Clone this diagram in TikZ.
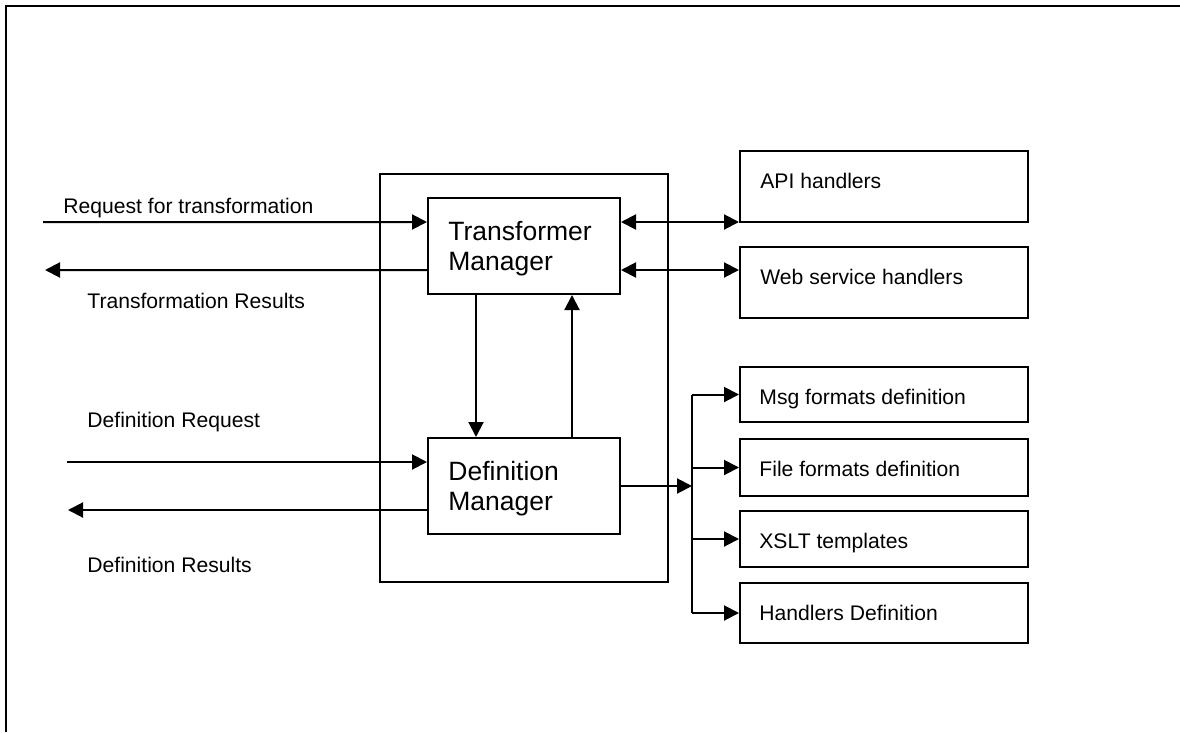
\documentclass[tikz,border=0pt]{standalone}
\usepackage{fontspec}
\setmainfont{Liberation Sans}
\usetikzlibrary{arrows.meta,calc}

\tikzset{
  box/.style={draw, line width=1bp, inner sep=0pt},
  txt/.style={inner sep=0pt, anchor=base west, font=\fontsize{10.6}{12.7}\selectfont},
  bigtxt/.style={inner sep=0pt, anchor=north west, align=left, font=\fontsize{13.3}{15}\selectfont},
  flow/.style={line width=1bp, -{Triangle[length=7.5bp,width=7.5bp]}},
  both/.style={line width=1bp, {Triangle[length=7.5bp,width=7.5bp]}-{Triangle[length=7.5bp,width=7.5bp]}},
}

\begin{document}
\begin{tikzpicture}[x=0.5bp,y=-0.5bp]
  \useasboundingbox (0,0) rectangle (1180,732);
  % page frame
  \draw[line width=1.4bp] (6,732) -- (6,6) -- (1180,6);

  % engine with its two managers
  \node[box, line width=0.8bp, minimum width=144bp, minimum height=204bp] (engine) at (524,378) {};
  \node[box, minimum width=96bp, minimum height=48bp] (tm) at (524,246) {};
  \node[box, minimum width=96bp, minimum height=48bp] (dm) at (524,486) {};
  \node[bigtxt] (tmtxt) at ($(tm.north west)+(21,24)$) {Transformer\\Manager};
  \node[bigtxt] (dmtxt) at ($(dm.north west)+(21,24)$) {Definition\\Manager};

  % handlers
  \node[box, minimum width=144bp, minimum height=35.5bp] (api) at (884,186.5) {};
  \node[box, minimum width=144bp, minimum height=35.5bp] (web) at (884,282.5) {};
  \node[txt] (apitxt) at ($(api.north west)+(21,38)$) {API handlers};
  \node[txt] (webtxt) at ($(web.north west)+(21,38)$) {Web service handlers};

  % definitions
  \node[box, minimum width=144bp, minimum height=27.5bp] (msg) at (884,394.5) {};
  \node[box, minimum width=144bp, minimum height=28.5bp] (file) at (884,467.5) {};
  \node[box, minimum width=144bp, minimum height=28bp] (xslt) at (884,539) {};
  \node[box, minimum width=144bp, minimum height=30bp] (hdl) at (884,613) {};
  \node[txt] (msgtxt) at ($(msg.north west)+(20,38)$) {Msg formats definition};
  \node[txt] (filetxt) at ($(file.north west)+(20,38)$) {File formats definition};
  \node[txt] (xslttxt) at ($(xslt.north west)+(20,38)$) {XSLT templates};
  \node[txt] (hdltxt) at ($(hdl.north west)+(20,38)$) {Handlers Definition};

  % outside labels
  \node[txt] (rqtxt) at (63,213) {Request for transformation};
  \node[txt] (rstxt) at (87,308) {Transformation Results};
  \node[txt] (dqtxt) at (87,427) {Definition Request};
  \node[txt] (drtxt) at (87,572) {Definition Results};

  % transformer side
  \coordinate (tmin) at ([yshift=12bp]tm.west);
  \coordinate (tmout) at ([yshift=-12bp]tm.west);
  \coordinate (tmapi) at ([yshift=12bp]tm.east);
  \coordinate (tmweb) at ([yshift=-12bp]tm.east);
  \coordinate (rq) at (43,222);
  \coordinate (rs) at (45,270);
  \draw[flow] (rq) -- (tmin);
  \draw[flow] (tmout) -- (rs);
  \draw[both] (tmapi) -- (tmapi -| api.west);
  \draw[both] (tmweb) -- (tmweb -| web.west);

  % between the managers
  \draw[flow] ([xshift=-24bp]tm.south) -- ([xshift=-24bp]dm.north);
  \draw[flow] ([xshift=24bp]dm.north) -- ([xshift=24bp]tm.south);

  % definition side
  \coordinate (dq) at (67,462);
  \coordinate (dr) at (68,510);
  \draw[flow] (dq) -- (dq -| dm.west);
  \draw[flow] (dr -| dm.west) -- (dr);
  \coordinate (bus) at (692,486);
  \draw[flow] (dm.east) -- (bus);
  \draw[line width=1bp] (bus |- msg.west) -- (bus |- hdl.west);
  \draw[flow] (bus |- msg.west) -- (msg.west);
  \draw[flow] (bus |- file.west) -- (file.west);
  \draw[flow] (bus |- xslt.west) -- (xslt.west);
  \draw[flow] (bus |- hdl.west) -- (hdl.west);
\end{tikzpicture}
\end{document}
